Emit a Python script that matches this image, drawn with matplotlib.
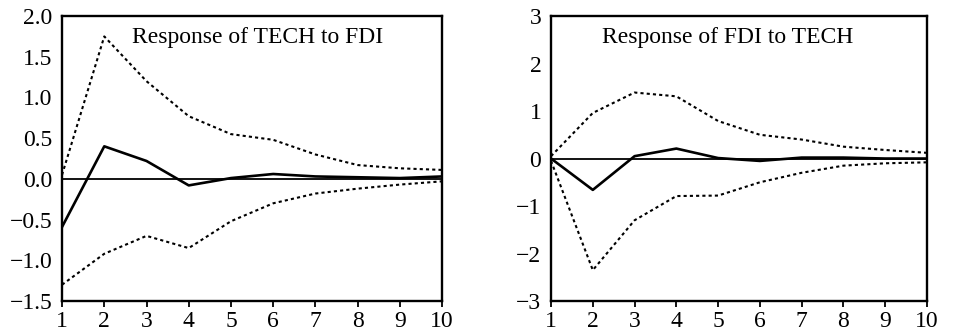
import matplotlib
matplotlib.use("Agg")
import matplotlib.pyplot as plt

periods = [1, 2, 3, 4, 5, 6, 7, 8, 9, 10]

tech_fdi_resp = [-0.59, 0.40, 0.22, -0.08, 0.01, 0.06, 0.03, 0.02, 0.01, 0.03]
tech_fdi_upper = [0.05, 1.75, 1.20, 0.77, 0.55, 0.48, 0.30, 0.17, 0.13, 0.11]
tech_fdi_lower = [-1.30, -0.92, -0.70, -0.85, -0.52, -0.30, -0.18, -0.12, -0.07, -0.03]

fdi_tech_resp = [0.0, -0.66, 0.05, 0.21, 0.01, -0.05, 0.02, 0.02, 0.0, 0.0]
fdi_tech_upper = [0.05, 0.96, 1.39, 1.31, 0.79, 0.50, 0.40, 0.25, 0.18, 0.12]
fdi_tech_lower = [-0.05, -2.35, -1.30, -0.79, -0.78, -0.50, -0.30, -0.15, -0.10, -0.08]

left_yticks = [-1.5, -1.0, -0.5, 0.0, 0.5, 1.0, 1.5, 2.0]
left_yticklabels = ["\u22121.5", "\u22121.0", "\u22120.5", "0.0", "0.5", "1.0", "1.5", "2.0"]
right_yticks = [-3, -2, -1, 0, 1, 2, 3]
right_yticklabels = ["\u22123", "\u22122", "\u22121", "0", "1", "2", "3"]

plt.rcParams['font.family'] = ['Liberation Serif', 'DejaVu Serif']

fig = plt.figure(figsize=(9.59, 3.35), dpi=100)
ax1 = fig.add_axes([0.0647, 0.1015, 0.3963, 0.8505])
ax2 = fig.add_axes([0.5746, 0.1015, 0.392, 0.8505])

def draw(ax, resp, up, lo, yticks, ylabels, ylim, title, tx):
    ax.axhline(0, color='black', lw=1.3, zorder=1)
    ax.plot(periods, up, color='black', lw=1.5, ls=(0, (1.5, 1.5)))
    ax.plot(periods, lo, color='black', lw=1.5, ls=(0, (1.5, 1.5)))
    ax.plot(periods, resp, color='black', lw=1.9)
    ax.set_xlim(1, 10)
    ax.set_ylim(*ylim)
    ax.set_xticks(periods)
    ax.set_xticklabels([str(p) for p in periods], fontsize=17)
    ax.set_yticks(yticks)
    ax.set_yticklabels(ylabels, fontsize=17)
    ax.tick_params(axis='x', direction='out', length=4, width=1.3, pad=3)
    ax.tick_params(axis='y', length=0, pad=7)
    for s in ax.spines.values():
        s.set_linewidth(1.7)
    ax.text(tx, 0.925, title, transform=ax.transAxes, ha='center', va='center', fontsize=17)

draw(ax1, tech_fdi_resp, tech_fdi_upper, tech_fdi_lower, left_yticks, left_yticklabels,
     (-1.5, 2.0), "Response of TECH to FDI", 0.515)
draw(ax2, fdi_tech_resp, fdi_tech_upper, fdi_tech_lower, right_yticks, right_yticklabels,
     (-3, 3), "Response of FDI to TECH", 0.47)

fig.savefig("out.png", dpi=100)
